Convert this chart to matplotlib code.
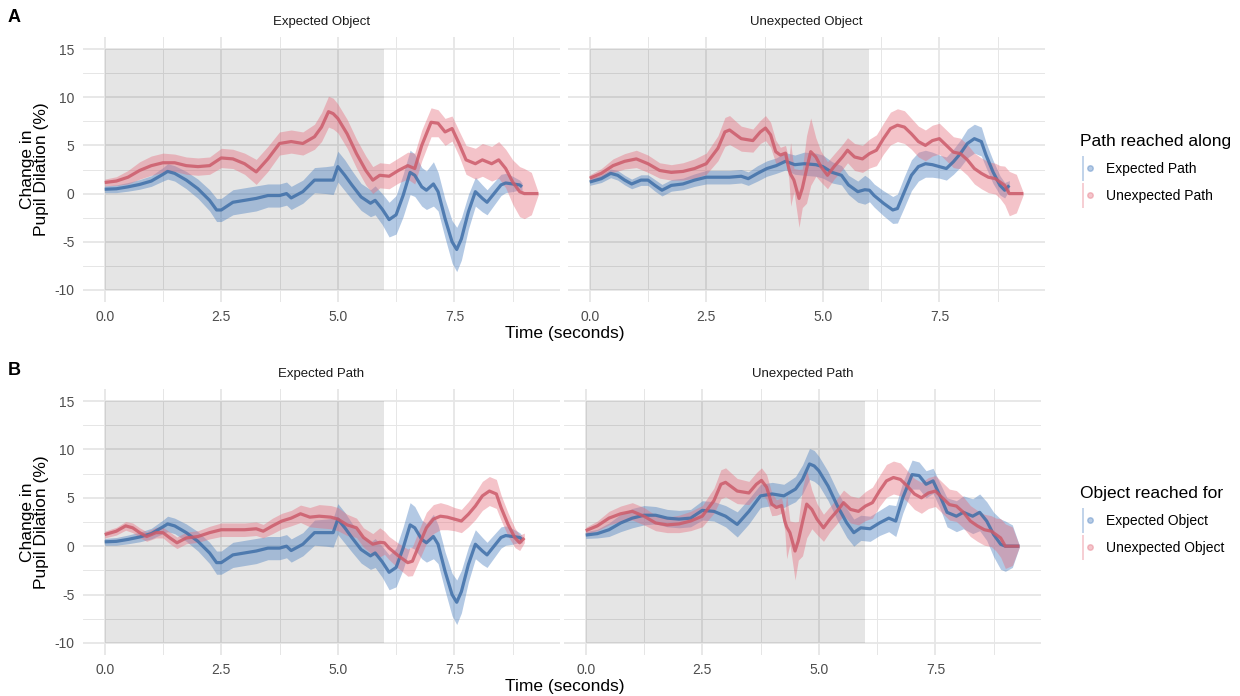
import matplotlib
matplotlib.use("Agg")
import matplotlib.pyplot as plt
from matplotlib.patches import Rectangle
from matplotlib.lines import Line2D
from matplotlib.legend_handler import HandlerTuple

plt.rcParams['font.family'] = ['Liberation Sans', 'DejaVu Sans']
plt.rcParams['axes.unicode_minus'] = False

# ---- data ----
# Expected Object, Expected Path
t_eo_ep = [0, 0.25, 0.5, 0.75, 1.0, 1.25, 1.35, 1.5, 1.75, 2.0, 2.25, 2.4, 2.5, 2.75, 3.0,
           3.25, 3.5, 3.75, 3.9, 4.0, 4.25, 4.5, 4.75, 4.9, 5.0, 5.15, 5.3, 5.5, 5.7, 5.8,
           5.95, 6.1, 6.25, 6.4, 6.55, 6.65, 6.8, 6.9, 7.05, 7.15, 7.3, 7.45, 7.55, 7.65, 7.8,
           7.95, 8.1, 8.2, 8.35, 8.5, 8.6, 8.75, 8.9, 8.95]
m_eo_ep = [0.45, 0.5, 0.7, 0.95, 1.3, 2.0, 2.3, 2.1, 1.4, 0.5, -0.7, -1.7, -1.7, -0.9, -0.7,
           -0.5, -0.2, -0.2, 0.0, -0.45, 0.2, 1.4, 1.4, 1.4, 2.8, 1.9, 0.9, -0.35, -1.0, -0.7,
           -1.6, -2.7, -2.2, -0.2, 2.2, 1.9, 0.7, 0.35, 1.0, 0.2, -2.6, -5.0, -5.8, -4.7, -1.9,
           0.2, -0.5, -0.9, 0.0, 0.9, 1.1, 1.0, 0.9, 0.7]
ci_eo_ep = [0.35, 0.4, 0.45, 0.5, 0.55, 0.7, 0.8, 0.8, 0.9, 1.0, 1.1, 1.2, 1.2, 1.3, 1.3,
            1.3, 1.2, 1.2, 1.2, 1.2, 1.2, 1.3, 1.4, 1.5, 1.6, 1.6, 1.5, 1.4, 1.4, 1.5,
            1.6, 1.8, 2.0, 2.2, 2.3, 2.2, 2.0, 2.0, 2.3, 2.0, 2.0, 2.2, 2.3, 2.2, 1.8,
            1.5, 1.4, 1.3, 1.2, 1.1, 1.0, 0.8, 0.5, 0.4]

# Expected Object, Unexpected Path
t_eo_up = [0, 0.25, 0.5, 0.75, 1.0, 1.25, 1.5, 1.75, 2.0, 2.25, 2.5, 2.75, 3.0, 3.25, 3.5,
           3.75, 4.0, 4.25, 4.5, 4.65, 4.8, 4.9, 5.0, 5.2, 5.4, 5.6, 5.75, 5.9, 6.1, 6.3,
           6.5, 6.65, 6.8, 7.0, 7.15, 7.3, 7.45, 7.6, 7.75, 7.95, 8.1, 8.3, 8.45, 8.6, 8.75,
           8.9, 9.0, 9.15, 9.3]
m_eo_up = [1.15, 1.3, 1.7, 2.4, 2.9, 3.2, 3.2, 2.9, 2.8, 2.9, 3.7, 3.6, 3.1, 2.25, 3.6,
           5.2, 5.4, 5.2, 5.9, 6.9, 8.5, 8.3, 7.8, 6.2, 4.15, 2.4, 1.4, 1.9, 1.8, 2.4,
           2.9, 2.6, 5.0, 7.4, 7.3, 6.4, 6.75, 5.2, 3.5, 3.1, 3.5, 3.1, 3.5, 2.6, 1.2,
           0.2, 0.0, 0.0, 0.0]
ci_eo_up = [0.35, 0.45, 0.7, 0.9, 1.0, 1.0, 0.9, 0.9, 0.9, 0.9, 1.0, 1.0, 1.1, 1.3, 1.3,
            1.2, 1.2, 1.2, 1.3, 1.5, 1.6, 1.6, 1.5, 1.5, 1.5, 1.5, 1.4, 1.3, 1.3, 1.3,
            1.4, 1.6, 1.6, 1.5, 1.4, 1.4, 1.3, 1.3, 1.5, 1.6, 1.7, 1.8, 1.9, 2.0, 2.3,
            2.6, 2.6, 2.2, 0.1]

# Unexpected Object, Expected Path
t_uo_ep = [0, 0.25, 0.45, 0.6, 0.75, 0.9, 1.1, 1.25, 1.4, 1.55, 1.75, 2.0, 2.25, 2.5, 2.75,
           3.0, 3.25, 3.4, 3.6, 3.8, 4.0, 4.2, 4.4, 4.6, 4.85, 5.0, 5.2, 5.4, 5.55, 5.75,
           5.9, 6.0, 6.1, 6.3, 6.5, 6.6, 6.75, 6.9, 7.05, 7.2, 7.35, 7.5, 7.65, 7.8, 7.95,
           8.1, 8.25, 8.4, 8.5, 8.65, 8.8, 8.9, 9.0]
m_uo_ep = [1.2, 1.55, 2.1, 1.9, 1.4, 1.0, 1.4, 1.4, 0.85, 0.35, 0.85, 1.0, 1.4, 1.7, 1.7,
           1.7, 1.8, 1.55, 2.1, 2.6, 2.9, 3.35, 3.0, 3.1, 3.0, 2.8, 2.2, 1.9, 0.9, 0.2,
           0.4, 0.35, -0.2, -1.0, -1.7, -1.55, 0.2, 1.9, 2.8, 3.1, 3.0, 2.8, 2.6, 3.3, 4.15,
           5.2, 5.7, 5.4, 4.0, 2.25, 0.85, 0.35, 0.85]
ci_uo_ep = [0.35, 0.4, 0.45, 0.5, 0.5, 0.5, 0.55, 0.55, 0.6, 0.6, 0.6, 0.6, 0.65, 0.7, 0.7,
            0.7, 0.7, 0.7, 0.8, 0.8, 0.8, 0.9, 1.0, 1.2, 1.2, 1.2, 1.1, 1.0, 1.0, 1.1,
            1.5, 1.2, 1.2, 1.3, 1.4, 1.5, 1.6, 1.6, 1.5, 1.4, 1.3, 1.2, 1.2, 1.3, 1.4,
            1.5, 1.5, 1.5, 1.3, 1.2, 1.0, 0.8, 0.5]

# Unexpected Object, Unexpected Path
t_uo_up = [0, 0.25, 0.5, 0.75, 1.0, 1.25, 1.5, 1.75, 2.0, 2.25, 2.5, 2.75, 2.9, 3.0, 3.25,
           3.5, 3.66, 3.77, 3.88, 3.99, 4.09, 4.2, 4.27, 4.31, 4.38, 4.49, 4.56, 4.65, 4.74, 4.85,
           4.96, 5.1, 5.24, 5.42, 5.53, 5.68, 5.85, 6.0, 6.15, 6.3, 6.45, 6.6, 6.75, 6.9, 7.05,
           7.2, 7.35, 7.5, 7.65, 7.8, 7.95, 8.1, 8.25, 8.4, 8.55, 8.7, 8.8, 8.9, 9.0, 9.15,
           9.3]
m_uo_up = [1.6, 2.1, 2.9, 3.35, 3.6, 3.1, 2.4, 2.2, 2.3, 2.6, 3.1, 4.7, 6.4, 6.6, 5.7,
           5.5, 6.4, 6.8, 6.1, 4.35, 4.0, 4.2, 2.6, 2.0, 1.4, -0.5, 0.55, 2.5, 4.35, 3.8,
           2.8, 1.9, 2.8, 3.8, 4.5, 3.8, 3.6, 4.15, 4.5, 5.7, 6.75, 7.1, 6.9, 6.2, 5.4,
           5.0, 5.5, 5.7, 5.0, 4.3, 4.15, 3.5, 2.6, 2.1, 1.7, 1.55, 1.2, 0.85, 0.0, 0.0,
           0.0]
ci_uo_up = [0.35, 0.5, 0.7, 0.8, 0.9, 0.9, 0.8, 0.8, 0.9, 1.0, 1.1, 1.3, 1.5, 1.5, 1.3,
            1.2, 1.2, 1.3, 1.3, 1.2, 0.8, 0.8, 1.0, 3.3, 1.2, 3.0, 2.0, 3.5, 3.5, 2.0,
            1.6, 1.4, 1.3, 1.3, 1.3, 1.4, 1.4, 1.5, 1.6, 1.6, 1.7, 1.7, 1.7, 1.6, 1.6,
            1.6, 1.6, 1.6, 1.6, 1.6, 1.6, 1.6, 1.6, 1.6, 1.6, 1.6, 1.7, 2.0, 2.3, 2.0,
            0.1]

series = {
    ('EO', 'EP'): (t_eo_ep, m_eo_ep, ci_eo_ep),
    ('EO', 'UP'): (t_eo_up, m_eo_up, ci_eo_up),
    ('UO', 'EP'): (t_uo_ep, m_uo_ep, ci_uo_ep),
    ('UO', 'UP'): (t_uo_up, m_uo_up, ci_uo_up),
}

blue_line, blue_fill = '#3F6FA8', '#4A7FC0'
red_line, red_fill = '#CC5B6A', '#E5707F'

W, H = 1240, 696
fig = plt.figure(figsize=(12.4, 6.96), dpi=100)


def make_ax(left, top, right, bottom):
    return fig.add_axes([left / W, 1 - bottom / H, (right - left) / W, (bottom - top) / H])


def style(ax, show_y):
    ax.set_xlim(-0.465, 9.765)
    ax.set_ylim(-11.25, 16.25)
    ax.set_xticks([0, 2.5, 5, 7.5])
    ax.set_xticklabels(['0.0', '2.5', '5.0', '7.5'])
    ax.set_xticks([1.25, 3.75, 6.25, 8.75], minor=True)
    ax.set_yticks([-10, -5, 0, 5, 10, 15])
    ax.set_yticks([-7.5, -2.5, 2.5, 7.5, 12.5], minor=True)
    ax.grid(which='major', color='#E6E6E6', lw=1.3, zorder=0)
    ax.grid(which='minor', color='#E6E6E6', lw=0.7, zorder=0)
    ax.set_axisbelow(True)
    for s in ax.spines.values():
        s.set_visible(False)
    ax.tick_params(which='both', length=0, labelsize=10, labelcolor='#4D4D4D', pad=6)
    if not show_y:
        ax.tick_params(axis='y', labelleft=False)
    ax.add_patch(Rectangle((0, -10), 6, 25, color='black', alpha=0.1, lw=0, zorder=1))


def draw(ax, key, line_c, fill_c):
    t, m, ci = series[key]
    lo = [a - b for a, b in zip(m, ci)]
    hi = [a + b for a, b in zip(m, ci)]
    ax.fill_between(t, lo, hi, color=fill_c, alpha=0.42, lw=0, zorder=2)
    ax.plot(t, m, color=line_c, lw=2.3, alpha=0.85, zorder=3, solid_capstyle='butt')


# ---- row A: facets by object, colour by path ----
axA1 = make_ax(83, 37, 560, 302)
axA2 = make_ax(568, 37, 1045, 302)
for ax, obj, title, show_y in [(axA1, 'EO', 'Expected Object', True),
                               (axA2, 'UO', 'Unexpected Object', False)]:
    style(ax, show_y)
    draw(ax, (obj, 'EP'), blue_line, blue_fill)
    draw(ax, (obj, 'UP'), red_line, red_fill)
    ax.set_title(title, fontsize=9.5, color='#1A1A1A', pad=9)

# ---- row B: facets by path, colour by object ----
axB1 = make_ax(83, 389, 560, 655)
axB2 = make_ax(564, 389, 1041, 655)
for ax, path, title, show_y in [(axB1, 'EP', 'Expected Path', True),
                                (axB2, 'UP', 'Unexpected Path', False)]:
    style(ax, show_y)
    draw(ax, ('EO', path), blue_line, blue_fill)
    draw(ax, ('UO', path), red_line, red_fill)
    ax.set_title(title, fontsize=9.5, color='#1A1A1A', pad=9)

for ax in (axA1, axB1):
    ax.set_ylabel('Change in\nPupil Dilation (%)', fontsize=12.5, linespacing=0.95, labelpad=4)

fig.text(565 / W, 1 - 334 / H, 'Time (seconds)', fontsize=12.5, ha='center', va='center')
fig.text(565 / W, 1 - 686 / H, 'Time (seconds)', fontsize=12.5, ha='center', va='center')
fig.text(8 / W, 1 - 17 / H, 'A', fontsize=13, weight='bold', va='center')
fig.text(8 / W, 1 - 370 / H, 'B', fontsize=13, weight='bold', va='center')


def key(c):
    return (Line2D([0], [0], marker='|', ms=18, mew=1.2, color=c, alpha=0.4, ls='None'),
            Line2D([0], [0], marker='o', ms=4, color=c, alpha=0.4, ls='None'))


for labels, title, y in [(['Expected Path', 'Unexpected Path'], 'Path reached along', 127),
                         (['Expected Object', 'Unexpected Object'], 'Object reached for', 479)]:
    leg = fig.legend([key(blue_fill), key(red_fill)], labels, title=title,
                     handler_map={tuple: HandlerTuple(ndivide=None, pad=0)},
                     loc='upper left', bbox_to_anchor=(1073 / W, 1 - y / H),
                     frameon=False, fontsize=10, title_fontsize=12.5,
                     handlelength=1.0, handletextpad=0.9, labelspacing=0.95,
                     alignment='left', borderpad=0)

fig.savefig('out.png', dpi=100)
